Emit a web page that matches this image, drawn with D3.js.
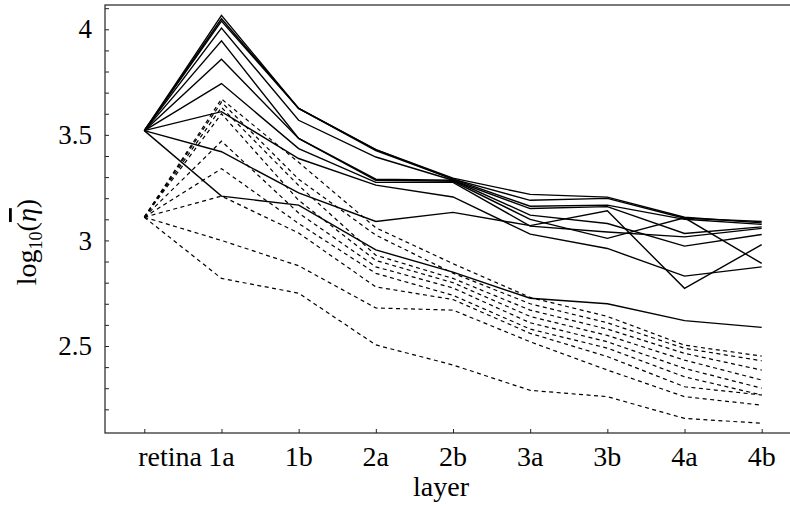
<!DOCTYPE html>
<html><head><meta charset="utf-8">
<script src="https://cdn.jsdelivr.net/npm/d3@7"></script>
<style>html,body{margin:0;padding:0;background:#fff;} svg{display:block;}</style>
</head><body><svg id="c" width="790" height="508"></svg>
<script>
const categories = ["retina","1a","1b","2a","2b","3a","3b","4a","4b"];
const yTickLabels = [2.5, 3, 3.5, 4];
const yMinorTicks = [2.2,2.3,2.4,2.5,2.6,2.7,2.8,2.9,3.0,3.1,3.2,3.3,3.4,3.5,3.6,3.7,3.8,3.9,4.0,4.1];
const xTitle = "layer";

const solid1  = [3.52, 4.066, 3.625, 3.43, 3.295, 3.218, 3.205, 3.11, 3.083];
const solid2  = [3.52, 4.05, 3.625, 3.43, 3.29, 3.19, 3.199, 3.105, 3.09];
const solid3  = [3.52, 4.039, 3.625, 3.425, 3.29, 3.162, 3.167, 3.10, 3.076];
const solid4  = [3.52, 4.006, 3.569, 3.395, 3.285, 3.151, 3.16, 3.033, 3.064];
const solid5  = [3.52, 3.945, 3.483, 3.29, 3.285, 3.12, 3.08, 2.973, 3.028];
const solid6  = [3.52, 3.858, 3.483, 3.285, 3.28, 3.10, 3.01, 3.107, 2.891];
const solid7  = [3.52, 3.743, 3.435, 3.275, 3.275, 3.068, 3.04, 3.017, 3.057];
const solid8  = [3.52, 3.61, 3.388, 3.262, 3.206, 3.03, 2.962, 2.831, 2.875];
const solid9  = [3.52, 3.42, 3.225, 3.09, 3.133, 3.07, 3.14, 2.773, 2.98];
const solid10 = [3.52, 3.21, 3.167, 2.955, 2.85, 2.726, 2.70, 2.62, 2.588];

const dashed1 = [3.11, 3.67, 3.37, 3.06, 2.89, 2.73, 2.64, 2.504, 2.452];
const dashed2 = [3.11, 3.655, 3.29, 3.025, 2.845, 2.70, 2.61, 2.489, 2.43];
const dashed3 = [3.11, 3.63, 3.26, 2.93, 2.82, 2.67, 2.58, 2.465, 2.386];
const dashed4 = [3.11, 3.60, 3.19, 2.905, 2.80, 2.64, 2.55, 2.433, 2.339];
const dashed5 = [3.11, 3.47, 3.13, 2.875, 2.775, 2.61, 2.52, 2.394, 2.30];
const dashed6 = [3.11, 3.34, 3.08, 2.844, 2.74, 2.58, 2.49, 2.354, 2.268];
const dashed7 = [3.11, 3.21, 3.035, 2.78, 2.72, 2.56, 2.45, 2.307, 2.268];
const dashed8 = [3.11, 3.00, 2.88, 2.68, 2.67, 2.52, 2.386, 2.26, 2.22];
const dashed9 = [3.11, 2.82, 2.75, 2.505, 2.41, 2.29, 2.26, 2.157, 2.134];

const solidSeries = [solid1, solid2, solid3, solid4, solid5, solid6, solid7, solid8, solid9, solid10];
const dashedSeries = [dashed1, dashed2, dashed3, dashed4, dashed5, dashed6, dashed7, dashed8, dashed9];

const svg = d3.select("#c");
const frameL = 105, frameR = 792, frameT = 5, frameB = 433;
const font = "'Liberation Serif', 'Times New Roman', serif";

const x = d3.scalePoint().domain(categories).range([144.3, 761.7]);
const y = d3.scaleLinear().domain([2.5, 4]).range([346, 29.3]);

// frame
svg.append("rect").attr("x", frameL).attr("y", frameT).attr("width", frameR - frameL).attr("height", frameB - frameT)
  .attr("fill", "none").attr("stroke", "#222").attr("stroke-width", 1.2);

// y axis
const yAxis = d3.axisRight(y).tickValues(yMinorTicks).tickSize(4).tickFormat("");
const gy = svg.append("g").attr("transform", `translate(${frameL},0)`).call(yAxis);
gy.select(".domain").remove();
gy.selectAll(".tick line").attr("stroke", "#222");

svg.append("g").selectAll("text").data(yTickLabels).join("text")
  .attr("x", 92).attr("y", d => y(d)).attr("dy", "0.34em")
  .attr("text-anchor", "end").attr("font-family", font).attr("font-size", 27)
  .text(d => d3.format("")(d));

// x axis
const xAxis = d3.axisTop(x).tickSize(4).tickFormat("");
const gx = svg.append("g").attr("transform", `translate(0,${frameB})`).call(xAxis);
gx.select(".domain").remove();
gx.selectAll(".tick line").attr("stroke", "#222");

svg.append("g").selectAll("text").data(categories).join("text")
  .attr("x", (d, i) => i === 0 ? x(d) - 6 : x(d)).attr("y", 466)
  .attr("text-anchor", (d, i) => i === 0 ? "start" : "middle")
  .attr("font-family", font).attr("font-size", 28)
  .text(d => d);

svg.append("text").attr("x", 441).attr("y", 496).attr("text-anchor", "middle")
  .attr("font-family", font).attr("font-size", 28).text(xTitle);

// y title
const yt = svg.append("text").attr("transform", "translate(36,242) rotate(-90)")
  .attr("text-anchor", "middle").attr("font-family", font).attr("font-size", 28);
yt.append("tspan").text("log");
yt.append("tspan").attr("font-size", 18).attr("dy", 6).text("10");
yt.append("tspan").attr("dy", -6).text("(");
yt.append("tspan").attr("font-style", "italic").attr("text-decoration", "overline").text("η");
yt.append("tspan").text(")");

// lines
const line = d3.line().x((d, i) => x(categories[i])).y(d => y(d));
const plot = svg.append("g");
plot.selectAll("path.dash").data(dashedSeries).join("path").attr("class", "dash")
  .attr("d", line).attr("fill", "none").attr("stroke", "#000")
  .attr("stroke-width", 1.2).attr("stroke-dasharray", "4,3.5");
plot.selectAll("path.solid").data(solidSeries).join("path").attr("class", "solid")
  .attr("d", line).attr("fill", "none").attr("stroke", "#000")
  .attr("stroke-width", 1.4).attr("stroke-linejoin", "miter");
</script></body></html>
